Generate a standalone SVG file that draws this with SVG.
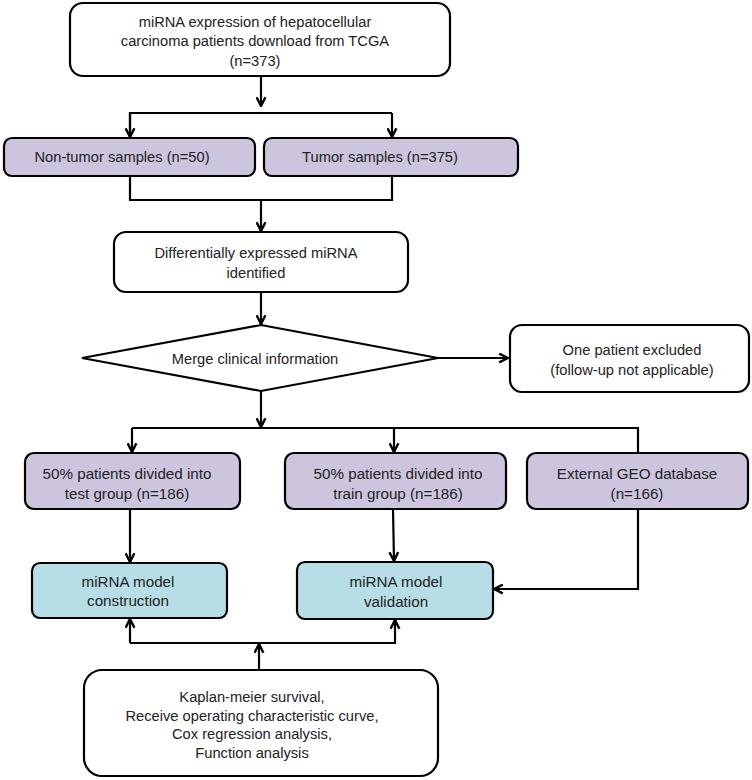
<svg xmlns="http://www.w3.org/2000/svg" width="752" height="780" viewBox="0 0 752 780">
<style>
.box{fill:#fff;stroke:#000;stroke-width:2.2}
.pur{fill:#cdc5dd;stroke:#000;stroke-width:2.2}
.blu{fill:#b7dde6;stroke:#000;stroke-width:2.2}
text{font-family:"Liberation Sans",Arial,sans-serif;font-size:14.7px;fill:#222;text-anchor:middle}
.big{font-size:15.2px}
.c line,.c path,.c polyline{stroke:#000;stroke-width:2.2;fill:none}
</style>
<defs>
<marker id="ah" viewBox="0 0 10 10" refX="9" refY="5" markerWidth="5" markerHeight="5" orient="auto" markerUnits="strokeWidth">
<path d="M1,1 L9,5 L1,9" fill="none" stroke="#000" stroke-width="2.2"/>
</marker>
</defs>
<rect width="752" height="780" fill="#fff"/>
<g id="n1"><rect class="box" x="70" y="3" width="380" height="73" rx="13"/>
<text x="255" y="27">miRNA expression of hepatocellular</text>
<text x="255" y="46">carcinoma patients download from TCGA</text>
<text x="255" y="66">(n=373)</text></g>
<g id="n2"><rect class="pur" x="4" y="138" width="251" height="38" rx="8"/>
<text x="122" y="162">Non-tumor samples (n=50)</text></g>
<g id="n3"><rect class="pur" x="264" y="138" width="254" height="38" rx="8"/>
<text x="380" y="162">Tumor samples (n=375)</text></g>
<g id="n4"><rect class="box" x="114" y="232" width="294" height="60" rx="12"/>
<text x="256" y="258">Differentially expressed miRNA</text>
<text x="256" y="278">identified</text></g>
<g id="n5"><polygon class="box" points="261,325 438,358 261,391 82,358"/>
<text x="255" y="364">Merge clinical information</text></g>
<g id="n6"><rect class="box" x="510" y="325" width="239" height="67" rx="12"/>
<text x="632" y="355">One patient excluded</text>
<text x="632" y="375">(follow-up not applicable)</text></g>
<g id="n7"><rect class="pur" x="25" y="453" width="215" height="56" rx="9"/>
<text class="big" x="127" y="479">50% patients divided into</text>
<text class="big" x="127" y="499">test group (n=186)</text></g>
<g id="n8"><rect class="pur" x="285" y="453" width="221" height="56" rx="9"/>
<text class="big" x="398" y="479">50% patients divided into</text>
<text class="big" x="398" y="499">train group (n=186)</text></g>
<g id="n9"><rect class="pur" x="527" y="453" width="221" height="56" rx="9"/>
<text class="big" x="637" y="479">External GEO database</text>
<text class="big" x="637" y="499">(n=166)</text></g>
<g id="n10"><rect class="blu" x="32" y="563" width="195" height="55" rx="8"/>
<text class="big" x="128" y="587">miRNA model</text>
<text class="big" x="128" y="606">construction</text></g>
<g id="n11"><rect class="blu" x="297" y="562" width="196" height="57" rx="8"/>
<text class="big" x="396" y="587">miRNA model</text>
<text class="big" x="396" y="607">validation</text></g>
<g id="n12"><rect class="box" x="84" y="670" width="354" height="106" rx="18"/>
<text x="252" y="702">Kaplan-meier survival,</text>
<text x="252" y="721">Receive operating characteristic curve,</text>
<text x="252" y="739">Cox regression analysis,</text>
<text x="252" y="758">Function analysis</text></g>
<g id="connectors" class="c">
<line x1="261" y1="76" x2="261" y2="106" marker-end="url(#ah)"/>
<polyline points="130,137 130,113 392,113"/>
<line x1="130" y1="113" x2="130" y2="137" marker-end="url(#ah)"/>
<line x1="392" y1="113" x2="392" y2="137" marker-end="url(#ah)"/>
<polyline points="130,176 130,200 392,200 392,176"/>
<line x1="261" y1="200" x2="261" y2="231" marker-end="url(#ah)"/>
<line x1="261" y1="292" x2="261" y2="324" marker-end="url(#ah)"/>
<line x1="438" y1="358" x2="508" y2="358" marker-end="url(#ah)"/>
<line x1="261" y1="391" x2="261" y2="427" marker-end="url(#ah)"/>
<polyline points="132,428 638,428 638,453"/>
<line x1="132" y1="428" x2="132" y2="452" marker-end="url(#ah)"/>
<line x1="394" y1="428" x2="394" y2="452" marker-end="url(#ah)"/>
<line x1="130" y1="509" x2="130" y2="562" marker-end="url(#ah)"/>
<line x1="393" y1="509" x2="394" y2="561" marker-end="url(#ah)"/>
<polyline points="638,509 638,589 494,589" marker-end="url(#ah)"/>
<polyline points="130,643 395,643 395,620" marker-end="url(#ah)"/>
<line x1="130" y1="643" x2="130" y2="619" marker-end="url(#ah)"/>
<line x1="259" y1="670" x2="259" y2="644" marker-end="url(#ah)"/>
</g>
</svg>
